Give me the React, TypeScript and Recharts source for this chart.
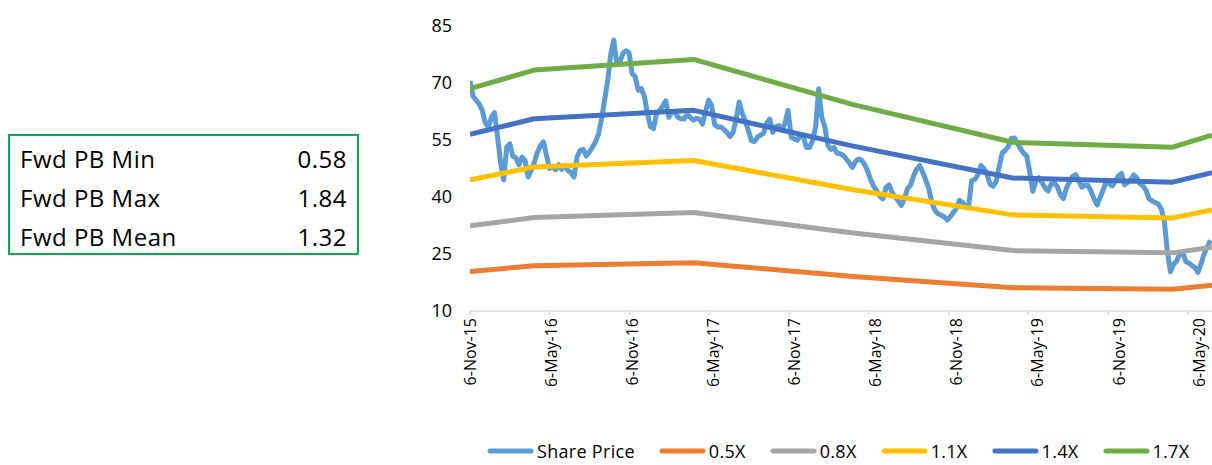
import React from "react";
import { Line, LineChart, XAxis, YAxis } from "recharts";

// weekly closes, first one on PRICE_START
const PRICE_START = "2015-11-06";
const SHARE_PRICE = [
  70.5, 66.5, 65.5, 64.5, 62.8, 59.5, 58.5, 61, 62.2, 56,
  49, 44.5, 53, 54, 50.7, 50.3, 48.5, 50.5, 49.6, 45.3,
  47, 49, 51.7, 53.5, 54.5, 51, 47.5, 48, 47.2, 48.5,
  47.3, 48.2, 47, 46.5, 45.3, 50.5, 52.3, 52.5, 50.8, 51.8,
  53.1, 54.5, 56.5, 60.5, 65.5, 70.5, 77.5, 81.3, 75, 75.5,
  77.8, 78.5, 78, 72.5, 71.6, 68.1, 68.5, 66.5, 62, 58.5,
  58, 62, 62.8, 64, 65.3, 61, 62.3, 62.5, 61, 60.6,
  60.5, 61.8, 61, 60.2, 60.7, 60.5, 59.2, 62.5, 65.5, 64,
  59, 58.4, 58.4, 57.8, 57, 55.9, 57, 60.5, 65, 62,
  60, 57.5, 54.8, 54.6, 55.8, 56.3, 56.8, 59.5, 60.5, 57,
  58.5, 58.8, 57.6, 59.5, 62.8, 55.7, 55.3, 54.9, 56.2, 55.8,
  53, 53, 54.8, 58.5, 68.5, 61, 58.5, 53.5, 52.5, 53,
  51.5, 51.4, 51, 50, 49, 47.8, 49.3, 50, 49.7, 48.5,
  46.8, 44.5, 42.8, 41.6, 40.2, 39.5, 42.5, 43.2, 41.2, 40,
  39, 37.8, 39.5, 42.2, 43.1, 45.5, 47.3, 48.3, 46.5, 44.5,
  42.2, 38.5, 36.5, 35.6, 35.2, 34.8, 33.9, 34.8, 35.9, 37,
  39.1, 38.6, 37.6, 37.5, 44.3, 44.6, 45.8, 48.3, 47.5, 46,
  43.4, 42.8, 44.1, 48, 51.6, 52.3, 53.3, 55.4, 55.5, 54.1,
  52.7, 51.5, 50.8, 46.5, 41.5, 44.2, 45.1, 43.8, 42.4, 41.6,
  43.4, 43.7, 42.7, 40.6, 39.6, 42.4, 44, 45.4, 45.9, 44.4,
  42.6, 43.1, 43, 41.6, 39.5, 37.9, 39.9, 41.9, 44, 43.5,
  42.9, 44.2, 45.6, 46.2, 43.2, 43.8, 44.6, 45.8, 45, 43.5,
  42.9, 41.8, 39.5, 39, 38.5, 38.2, 36.8, 33.5, 25.5, 20.3,
  22.3, 23.1, 25, 25.5, 23, 22.6, 22, 21.4, 20.2, 22.5,
  25, 26.8, 28.6,
];

// forward P/B bands, knots at fiscal year starts
const BAND_DATES = ["2015-11-06", "2016-04-01", "2017-04-01", "2018-04-01", "2019-04-01", "2020-04-01", "2020-06-30"];
const BAND_05 = [20.4, 21.9, 22.7, 19.1, 16.1, 15.7, 16.8];
const BAND_08 = [32.4, 34.6, 35.9, 30.5, 25.9, 25.3, 26.8];
const BAND_11 = [44.5, 47.9, 49.6, 41.9, 35.3, 34.5, 36.6];
const BAND_14 = [56.5, 60.6, 62.8, 53.4, 45.0, 43.9, 46.4];
const BAND_17 = [68.5, 73.4, 76.2, 64.3, 54.4, 53.1, 56.3];

const X_TICK_DATES = [
  "2015-11-06", "2016-05-06", "2016-11-06", "2017-05-06", "2017-11-06",
  "2018-05-06", "2018-11-06", "2019-05-06", "2019-11-06", "2020-05-06",
];
const X_END = "2020-06-30";
const Y_TICKS = [10, 25, 40, 55, 70, 85];

const STAT_LABELS = ["Fwd PB Min", "Fwd PB Max", "Fwd PB Mean"];
const STAT_VALUES = ["0.58", "1.84", "1.32"];

const SERIES = [
  { key: "price", name: "Share Price", color: "#5B9BD5" },
  { key: "b05", name: "0.5X", color: "#ED7D31" },
  { key: "b08", name: "0.8X", color: "#A5A5A5" },
  { key: "b11", name: "1.1X", color: "#FFC000" },
  { key: "b14", name: "1.4X", color: "#4472C4" },
  { key: "b17", name: "1.7X", color: "#70AD47" },
];

const MONTHS = ["Jan", "Feb", "Mar", "Apr", "May", "Jun", "Jul", "Aug", "Sep", "Oct", "Nov", "Dec"];
const DAY = 86400000;
const FONT = "'Open Sans', sans-serif";

const toTime = (s: string) => Date.parse(s + "T00:00:00Z");
const fmtDate = (t: number) => {
  const d = new Date(t);
  return `${d.getUTCDate()}-${MONTHS[d.getUTCMonth()]}-${String(d.getUTCFullYear()).slice(2)}`;
};

const priceData = SHARE_PRICE.map((v, i) => ({ t: toTime(PRICE_START) + i * 7 * DAY, price: v }));
const bandData = BAND_DATES.map((d, i) => ({
  t: toTime(d),
  b05: BAND_05[i],
  b08: BAND_08[i],
  b11: BAND_11[i],
  b14: BAND_14[i],
  b17: BAND_17[i],
}));

// excel drifts its rotated labels a little to the right of the tick marks
function DateTick({ x, y, payload, index }: any) {
  const nx = x + (index ?? 0) * 1.3;
  return (
    <text
      x={nx}
      y={y}
      transform={`rotate(-90, ${nx}, ${y})`}
      textAnchor="end"
      dy="0.36em"
      fontSize={16}
      fontFamily={FONT}
      fill="#000"
    >
      {fmtDate(payload.value)}
    </text>
  );
}

function StatsBox() {
  return (
    <div
      style={{
        position: "absolute",
        left: 8,
        top: 134,
        width: 351,
        height: 121,
        boxSizing: "border-box",
        border: "2px solid #00B050",
        padding: "2.5px 10px 0 10px",
        fontFamily: FONT,
        fontSize: 24,
        letterSpacing: 0.5,
        lineHeight: "39px",
        color: "#000",
      }}
    >
      {STAT_LABELS.map((label, i) => (
        <div key={label} style={{ display: "flex", justifyContent: "space-between" }}>
          <span>{label}</span>
          <span>{STAT_VALUES[i]}</span>
        </div>
      ))}
    </div>
  );
}

function ChartLegend() {
  return (
    <div
      style={{
        position: "absolute",
        left: 487,
        top: 442,
        display: "flex",
        alignItems: "center",
        gap: 24,
        fontFamily: FONT,
        fontSize: 18,
        letterSpacing: 0.3,
        lineHeight: "18px",
        color: "#000",
        whiteSpace: "nowrap",
      }}
    >
      {SERIES.map((s) => (
        <div key={s.key} style={{ display: "flex", alignItems: "center", gap: 3 }}>
          <svg width={47} height={8}>
            <line x1={3} y1={4} x2={44} y2={4} stroke={s.color} strokeWidth={5} strokeLinecap="round" />
          </svg>
          <span>{s.name}</span>
        </div>
      ))}
    </div>
  );
}

export default function App() {
  return (
    <div style={{ position: "absolute", left: 0, top: 0, width: 1212, height: 465, overflow: "hidden", background: "#fff" }}>
      <StatsBox />
      <LineChart width={1212} height={465} margin={{ top: 26, right: 0, bottom: 0, left: 0 }}>
        <XAxis
          type="number"
          dataKey="t"
          domain={[toTime(PRICE_START), toTime(X_END)]}
          ticks={X_TICK_DATES.map(toTime)}
          allowDataOverflow
          height={154}
          tickSize={4}
          tickMargin={3}
          axisLine={{ stroke: "#D9D9D9", strokeWidth: 1.5 }}
          tickLine={{ stroke: "#D9D9D9", strokeWidth: 1.5 }}
          tick={<DateTick />}
          interval={0}
        />
        <YAxis
          type="number"
          domain={[10, 85]}
          ticks={Y_TICKS}
          width={470}
          axisLine={false}
          tickLine={false}
          tickSize={0}
          tickMargin={18}
          tick={{ fontSize: 18, fontFamily: FONT, fill: "#000" }}
          interval={0}
        />
        <Line
          data={priceData}
          dataKey="price"
          name="Share Price"
          type="linear"
          stroke="#5B9BD5"
          strokeWidth={5}
          strokeLinejoin="round"
          dot={false}
          isAnimationActive={false}
        />
        {SERIES.slice(1).map((s) => (
          <Line
            key={s.key}
            data={bandData}
            dataKey={s.key}
            name={s.name}
            type="linear"
            stroke={s.color}
            strokeWidth={5}
            strokeLinejoin="round"
            dot={false}
            isAnimationActive={false}
          />
        ))}
      </LineChart>
      <ChartLegend />
    </div>
  );
}
